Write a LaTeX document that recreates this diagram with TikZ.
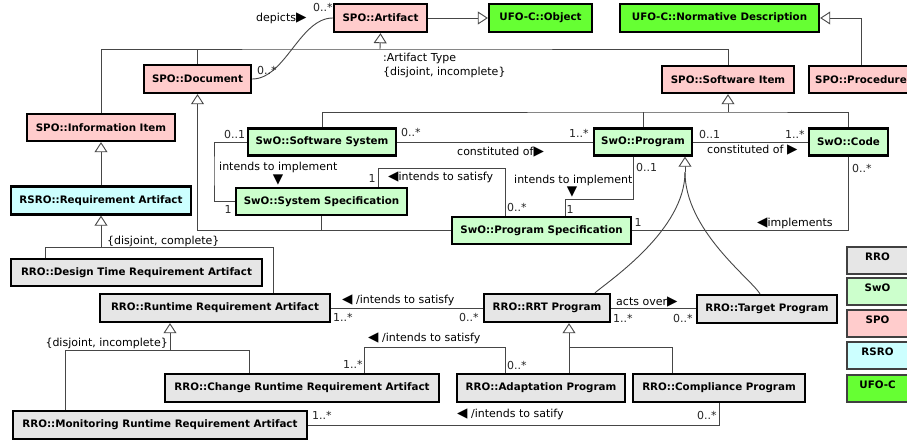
\documentclass[tikz,border=0pt]{standalone}
\usepackage{fontspec}
\setmainfont{DejaVu Sans}
\usetikzlibrary{arrows.meta}

\definecolor{sporose}{RGB}{255,204,204}
\definecolor{swomint}{RGB}{204,255,204}
\definecolor{rsrocyan}{RGB}{204,255,255}
\definecolor{rrogray}{RGB}{230,230,230}
\definecolor{ufogreen}{RGB}{102,255,51}
\definecolor{wire}{RGB}{70,70,70}

% reading direction marks
\newcommand{\rdir}{{\fontsize{13.5}{11}\selectfont ▶}}
\newcommand{\ldir}{{\fontsize{13.5}{11}\selectfont ◀}}

\begin{document}
\begin{tikzpicture}[x=1pt,y=-1pt,
    box/.style={draw=black, line width=2.4pt, inner sep=0pt, font=\fontsize{10.3}{12}\selectfont\bfseries},
    spo/.style={box, fill=sporose},
    swo/.style={box, fill=swomint},
    rro/.style={box, fill=rrogray},
    rsro/.style={box, fill=rsrocyan},
    ufo/.style={box, fill=ufogreen},
    sz/.style 2 args={minimum width=#1pt, minimum height=#2pt},
    leg/.style={draw=black!75, line width=2pt, inner sep=0pt, minimum width=61pt, minimum height=27pt,
        text height=7pt, text depth=7pt, font=\fontsize{10.3}{12}\selectfont\bfseries},
    conn/.style={draw=wire, line width=0.9pt},
    gen/.style={conn, -{Triangle[length=10pt, width=13pt, fill=white]}},
    lbl/.style={inner sep=0pt, anchor=west, font=\fontsize{11}{13}\selectfont},
    mult/.style={lbl, text=black!85},
    dirtri/.style={inner sep=0pt, font=\fontsize{13.5}{13}\selectfont}]
    \fill[white] (0,0) rectangle (907,441);
    \useasboundingbox (0,0) rectangle (907,441);

    % SPO and UFO-C classes
    \node[spo, sz={93}{28}] (art) at (380.5,18) {SPO::Artifact};
    \node[ufo, sz={103}{28}] (obj) at (540.5,18) {UFO-C::Object};
    \node[ufo, sz={199}{28}] (normd) at (719.5,18) {UFO-C::Normative Description};
    \node[spo, sz={132}{27}] (swi) at (728,79.5) {SPO::Software Item};
    \node[spo, sz={104}{27}] (proc) at (861,79.5) {SPO::Procedure};
    \node[spo, sz={107}{28}] (doc) at (197.5,79) {SPO::Document};
    \node[spo, sz={148}{27}] (info) at (101,127.5) {SPO::Information Item};
    \node[rsro, sz={180}{28}] (req) at (101,200.5) {RSRO::Requirement Artifact};

    % SwO classes
    \node[swo, sz={148}{27}] (sws) at (322,142) {SwO::Software System};
    \node[swo, sz={98}{27}] (prog) at (643,142) {SwO::Program};
    \node[swo, sz={79}{27}] (code) at (848.5,142) {SwO::Code};
    \node[swo, sz={171}{27}] (syss) at (321.5,201.5) {SwO::System Specification};
    \node[swo, sz={179}{27}] (progs) at (541.5,230.5) {SwO::Program Specification};

    % RRO classes
    \node[rro, sz={251}{27}] (dtra) at (136.5,272.5) {RRO::Design Time Requirement Artifact};
    \node[rro, sz={230}{28}] (rra) at (215,308) {RRO::Runtime Requirement Artifact};
    \node[rro, sz={126}{28}] (rrt) at (547,308) {RRO::RRT Program};
    \node[rro, sz={140}{28}] (tgt) at (767,309) {RRO::Target Program};
    \node[rro, sz={274}{28}] (cra) at (302,388) {RRO::Change Runtime Requirement Artifact};
    \node[rro, sz={168}{28}] (adp) at (541,388) {RRO::Adaptation Program};
    \node[rro, sz={172}{28}] (cmp) at (719,388) {RRO::Compliance Program};
    \node[rro, sz={294}{28}] (mra) at (160,425) {RRO::Monitoring Runtime Requirement Artifact};

    % Legend
    \node[leg, fill=rrogray] (k-rro) at (877.5,260.5) {RRO};
    \node[leg, fill=swomint] (k-swo) at (877.5,291.5) {SwO};
    \node[leg, fill=sporose] (k-spo) at (877.5,323.5) {SPO};
    \node[leg, fill=rsrocyan] (k-rsro) at (877.5,355.5) {RSRO};
    \node[leg, fill=ufogreen] (k-ufo) at (877.5,388) {UFO-C};

    % Generalizations
    \coordinate (artbus) at (380,49);
    \draw[gen] (artbus) -- (art.south);
    \draw[conn] (info.north) |- (artbus) -| (swi.north);
    \draw[conn] (doc.north) -- (doc.north |- artbus);
    \draw[gen] (art.east) -- (obj.west);
    \draw[gen] (proc.north) |- (normd.east);

    \coordinate (swibus) at (728,112);
    \draw[gen] (swibus) -- (swi.south);
    \draw[conn] (sws.north) |- (swibus) -| (code.north);
    \draw[conn] (prog.north) -- (prog.north |- swibus);

    \draw[gen] (doc.south |- progs.west) -- (doc.south);
    \draw[conn] (doc.south |- progs.west) -- (progs.west);
    \draw[conn] (syss.south) -- (syss.south |- progs.west);

    \draw[gen] (req.north) -- (info.south);

    \coordinate (reqbus) at (101,247);
    \coordinate (reqL) at (45,247);
    \coordinate (reqR) at (273,247);
    \draw[gen] (reqbus) -- (req.south);
    \draw[conn] (dtra.north -| reqL) -- (reqL) -- (reqR) -- (rra.north -| reqR);

    \coordinate (rragen) at (170,350);
    \coordinate (rraL) at (65,350);
    \coordinate (rraR) at (249,350);
    \draw[gen] (rragen) -- (rra.south -| rragen);
    \draw[conn] (mra.north -| rraL) -- (rraL) -- (rraR) -- (cra.north -| rraR);

    \coordinate (rrtbus) at (569,347);
    \coordinate (rrtR) at (672,347);
    \draw[gen] (rrtbus) -- (rrt.south -| rrtbus);
    \draw[conn] (adp.north -| rrtbus) -- (rrtbus) -- (rrtR) -- (cmp.north -| rrtR);

    \coordinate (progtip) at (685,172);
    \draw[gen] (progtip) -- (prog.south -| progtip);
    \draw[conn] ([xshift=48pt]rrt.north) .. controls (610,280) and (685,230) .. (progtip);
    \draw[conn] ([xshift=-7pt]tgt.north) .. controls (750,278) and (685,230) .. (progtip);

    % Associations
    \draw[conn] (doc.east) .. controls +(33,0) and +(-33,0) .. (art.west);
    \draw[conn] (sws.east) -- (prog.west);
    \draw[conn] (prog.east) -- (code.west);

    \coordinate (sysloop) at (214,170);
    \draw[conn] (sws.west) -| (sysloop) |- (syss.west);

    \coordinate (satL) at (378,168);
    \coordinate (satR) at (505,168);
    \draw[conn] (syss.north -| satL) -- (satL) -- (satR) -- (progs.north -| satR);

    \coordinate (implR) at (633,199);
    \coordinate (implL) at (565,199);
    \draw[conn] (prog.south -| implR) -- (implR) -- (implL) -- (progs.north -| implL);

    \draw[conn] (code.south) |- (progs.east);

    \draw[conn] (rra.east) -- (rrt.west);
    \draw[conn] (rrt.east) -- (rrt.east -| tgt.west);

    \coordinate (chgL) at (364,347);
    \coordinate (chgR) at (505,347);
    \draw[conn] (cra.north -| chgL) -- (chgL) -- (chgR) -- (adp.north -| chgR);

    \draw[conn] (mra.east) -| (cmp.south);

    % Labels
    \node[mult] (m-artdep) at (313,7) {0..*};
    \node[lbl] (l-depicts) at (256,18) {depicts\rdir};
    \node[mult] (m-docdep) at (257,70) {0..*};
    \node[lbl] (l-arttype) at (383,58) {:Artifact Type};
    \node[lbl] (l-artset) at (383,72) {\{disjoint, incomplete\}};

    \node[mult] (m-sysimp) at (224,134) {0..1};
    \node[lbl] (l-sysimp) at (219,167) {intends to implement};
    \node[dirtri] (t-sysimp) at (278,180) {▼};
    \node[mult, anchor=center] (m-syssimp) at (228,209) {1};
    \node[mult] (m-swscon) at (401,132) {0..*};
    \node[lbl] (l-swscon) at (457,152) {constituted of\rdir};
    \node[mult] (m-progcon) at (569,133) {1..*};
    \node[mult, anchor=center] (m-syssat) at (372,178) {1};
    \node[lbl] (l-syssat) at (388,177) {\ldir intends to satisfy};
    \node[mult] (m-progssat) at (507,207) {0..*};
    \node[lbl] (l-progimp) at (514,180) {intends to implement};
    \node[dirtri] (t-progimp) at (572,192) {▼};
    \node[mult] (m-progimp) at (636,167) {0..1};
    \node[mult, anchor=center] (m-progsimp) at (570,209) {1};
    \node[mult] (m-progcode) at (699,134) {0..1};
    \node[lbl] (l-codecon) at (707,150) {constituted of \rdir};
    \node[mult] (m-codecon) at (785,134) {1..*};
    \node[mult] (m-codeimp) at (852,168) {0..*};
    \node[mult, anchor=center] (m-progsimpl) at (638,222) {1};
    \node[lbl] (l-implements) at (757,223) {\ldir implements};

    \node[lbl] (l-reqset) at (107,241) {\{disjoint, complete\}};
    \node[lbl] (l-rrasat) at (342,300) {\ldir\ /intends to satisfy};
    \node[mult] (m-rrasat) at (333,317) {1..*};
    \node[mult] (m-rrtsat) at (459,317) {0..*};
    \node[lbl] (l-actsover) at (616,302) {acts over\rdir};
    \node[mult] (m-rrtact) at (613,318) {1..*};
    \node[mult] (m-tgtact) at (673,318) {0..*};
    \node[lbl, anchor=east] (l-rraset) at (168,343) {\{disjoint, incomplete\}};
    \node[lbl] (l-chgsat) at (368,338) {\ldir\ /intends to satisfy};
    \node[mult] (m-chgsat) at (343,364) {1..*};
    \node[mult] (m-adpsat) at (507,365) {0..*};
    \node[lbl] (l-monsat) at (457,414) {\ldir\ /intends to satify};
    \node[mult] (m-monsat) at (312,415) {1..*};
    \node[mult] (m-cmpsat) at (697,415) {0..*};
\end{tikzpicture}
\end{document}
